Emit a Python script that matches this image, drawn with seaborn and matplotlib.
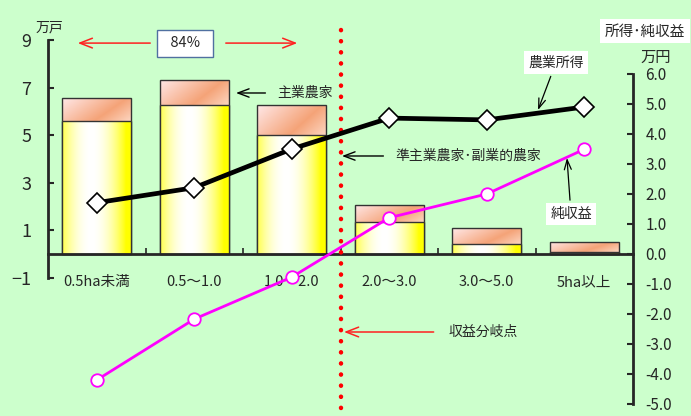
import numpy as np
import matplotlib
matplotlib.use('Agg')
import matplotlib.pyplot as plt
import seaborn as sns
from matplotlib.ticker import FixedLocator, FormatStrFormatter

# ---- data ----
categories = ['0.5ha未満', '0.5～1.0', '1.0～2.0', '2.0～3.0', '3.0～5.0', '5ha以上']
households_total = [6.55, 7.32, 6.26, 2.06, 1.10, 0.50]      # 万戸 (all farms)
households_sub = [5.60, 6.26, 5.00, 1.33, 0.43, 0.07]        # 準主業農家・副業的農家
farm_income = [1.71, 2.21, 3.50, 4.53, 4.47, 4.90]           # 農業所得 万円
net_income = [-4.20, -2.17, -0.77, 1.21, 2.00, 3.49]         # 純収益 万円
left_ticks = [-1, 1, 3, 5, 7, 9]
right_ticks = [-5.0, -4.0, -3.0, -2.0, -1.0, 0.0, 1.0, 2.0, 3.0, 4.0, 5.0, 6.0]

sns.set_style('ticks')
plt.rcParams['font.family'] = ['Liberation Sans Narrow', 'Noto Sans CJK JP', 'DejaVu Sans']
plt.rcParams['axes.unicode_minus'] = True

BG = '#CCFFCC'
fig = plt.figure(figsize=(6.91, 4.16), dpi=100, facecolor=BG)
ax = fig.add_axes([48 / 691, 1 - 404 / 416, 585 / 691, 364 / 416])
ax.set_facecolor(BG)

# bars (total drawn first, lower segment on top)
sns.barplot(x=categories, y=households_total, ax=ax, width=0.71, color='white',
            edgecolor='#333333', linewidth=1.0)
sns.barplot(x=categories, y=households_sub, ax=ax, width=0.71, color='white',
            edgecolor='#333333', linewidth=1.0)

patches = list(ax.patches)
top_patches = patches[:6]
low_patches = patches[6:12]

# gradients
def yellow_grad(n=80):
    t = np.linspace(0, 1, n)
    w = np.clip(1 - (np.abs(t - 0.42) / 0.5) ** 2, 0, 1)
    yel = np.array([1.0, 1.0, 0.0])
    wht = np.array([1.0, 1.0, 1.0])
    img = yel[None, :] * (1 - w[:, None]) + wht[None, :] * w[:, None]
    return img[None, :, :]

def peach_grad(nx=80, ny=30):
    u = np.linspace(0, 1, nx)[None, :]
    v = np.linspace(0, 1, ny)[:, None]
    s = np.clip(0.75 * u + 0.35 * v, 0, 1.1)
    c0 = np.array([1.0, 0.91, 0.91])
    c1 = np.array([0.96, 0.64, 0.47])
    c2 = np.array([0.99, 0.84, 0.76])
    m = s <= 0.7
    a = (s / 0.7)[..., None]
    b = np.clip((s - 0.7) / 0.4, 0, 1)[..., None]
    return np.where(m[..., None], c0 * (1 - a) + c1 * a, c1 * (1 - b) + c2 * b)

for tp, lp in zip(top_patches, low_patches):
    x0, w = tp.get_x(), tp.get_width()
    tp.set_facecolor('none'); lp.set_facecolor('none')
    tp.set_zorder(1.1); lp.set_zorder(1.3)
    im1 = ax.imshow(peach_grad(), extent=[x0, x0 + w, lp.get_height(), tp.get_height()],
                    aspect='auto', zorder=1.0, interpolation='bilinear')
    im1.set_clip_path(tp)
    im2 = ax.imshow(yellow_grad(), extent=[x0, x0 + w, 0, lp.get_height()],
                    aspect='auto', zorder=1.2, interpolation='bilinear')
    im2.set_clip_path(lp)

# axes styling (left)
ax.set_xlim(-0.5, 5.5)
ax.set_ylim(-6.30, 9)
for s in ['top', 'right']:
    ax.spines[s].set_visible(False)
ax.spines['left'].set_bounds(-1, 9)
ax.spines['left'].set_linewidth(2)
ax.spines['bottom'].set_position(('data', 0))
ax.spines['bottom'].set_linewidth(2)
ax.yaxis.set_major_locator(FixedLocator(left_ticks))
ax.tick_params(axis='y', direction='in', length=4, width=1.5, pad=12, labelsize=13)
ax.set_xticks(range(len(categories)))
ax.set_xticklabels(categories)
ax.set_xticks(np.arange(0.5, 5.0, 1.0), minor=True)
ax.tick_params(axis='x', which='major', length=0, pad=15, labelsize=10.5)
ax.tick_params(axis='x', which='minor', direction='in', length=4, width=1.2)
ax.set_xlabel(''); ax.set_ylabel('')

# break-even dotted line
ax.axvline(2.5, ymin=-0.011, ymax=1.041, color='red', lw=3.2,
           linestyle=(0, (0.05, 2.45)), dash_capstyle='round', clip_on=False, zorder=4)

# right axis + lines
ax2 = ax.twinx()
ax2.patch.set_visible(False)
xpos = np.arange(len(categories))
sns.lineplot(x=xpos, y=net_income, ax=ax2, color='#FF00FF', lw=2.0, marker='o',
             markersize=9, markerfacecolor='white', markeredgecolor='#FF00FF',
             markeredgewidth=1.3, zorder=5)
sns.lineplot(x=xpos, y=farm_income, ax=ax2, color='black', lw=3.4, marker='D',
             markersize=10, markerfacecolor='white', markeredgecolor='black',
             markeredgewidth=1.2, zorder=6)
ax2.set_xlim(-0.5, 5.5)
ax2.set_ylim(-5.0, 7.133)
for s in ['top', 'left', 'bottom']:
    ax2.spines[s].set_visible(False)
ax2.spines['right'].set_bounds(-5, 6)
ax2.spines['right'].set_linewidth(2)
ax2.yaxis.set_major_locator(FixedLocator(right_ticks))
ax2.yaxis.set_major_formatter(FormatStrFormatter('%.1f'))
ax2.tick_params(axis='y', direction='in', length=4, width=1.5, pad=9, labelsize=11)
ax2.set_xlabel(''); ax2.set_ylabel('')

JP = ['Noto Sans CJK JP', 'DejaVu Sans']

# annotations
ax.text(-0.49, 9.52, '万戸', ha='center', va='center', fontsize=10, family=JP)
ax.annotate('', xy=(-0.223, 8.87), xytext=(0.577, 8.87),
            arrowprops=dict(arrowstyle='->,head_length=0.9,head_width=0.35', color='#FF2020', lw=1.1))
ax.annotate('', xy=(2.085, 8.87), xytext=(1.295, 8.87),
            arrowprops=dict(arrowstyle='->,head_length=0.9,head_width=0.35', color='#FF2020', lw=1.1))
ax.text(0.905, 8.87, '  84%  ', ha='center', va='center', fontsize=10.5,
        bbox=dict(boxstyle='square,pad=0.45', fc='white', ec='#5070A0', lw=1.0))
ax2.annotate('主業農家', xy=(1.428, (254 - 93) / 30), xytext=(1.849, (254 - 93) / 30),
             ha='left', va='center', fontsize=10, family=JP,
             arrowprops=dict(arrowstyle='->,head_length=0.8,head_width=0.3', color='black', lw=1.0,
                             shrinkA=6, shrinkB=0))
ax2.annotate('準主業農家･副業的農家', xy=(2.515, (254 - 156) / 30), xytext=(3.059, (254 - 156) / 30),
             ha='left', va='center', fontsize=10, family=JP,
             arrowprops=dict(arrowstyle='->,head_length=0.8,head_width=0.3', color='black', lw=1.0,
                             shrinkA=6, shrinkB=0))
ax2.annotate('収益分岐点', xy=(2.536, (254 - 332) / 30), xytext=(3.603, (254 - 332) / 30),
             ha='left', va='center', fontsize=10, family=JP,
             arrowprops=dict(arrowstyle='->,head_length=0.9,head_width=0.35', color='#FF2020', lw=1.1,
                             shrinkA=8, shrinkB=0))
ax2.annotate('農業所得', xy=(4.526, 4.80), xytext=(4.71, 6.38),
             ha='center', va='center', fontsize=10, family=JP,
             bbox=dict(boxstyle='square,pad=0.3', fc='white', ec='none'),
             arrowprops=dict(arrowstyle='->,head_length=0.7,head_width=0.25', color='black', lw=0.9,
                             shrinkA=2, shrinkB=0))
ax2.annotate('純収益', xy=(4.823, 3.20), xytext=(4.864, 1.33),
             ha='center', va='center', fontsize=10, family=JP,
             bbox=dict(boxstyle='square,pad=0.3', fc='white', ec='none'),
             arrowprops=dict(arrowstyle='->,head_length=0.7,head_width=0.25', color='black', lw=0.9,
                             shrinkA=2, shrinkB=0))
ax2.text(5.623, 7.42, '所得･純収益', ha='center', va='center', fontsize=10.5, family=JP,
         bbox=dict(boxstyle='square,pad=0.35', fc='white', ec='none'))
ax2.text(5.736, 6.57, '万円', ha='center', va='center', fontsize=11, family=JP)

fig.savefig('out.png', dpi=100, facecolor=BG)
